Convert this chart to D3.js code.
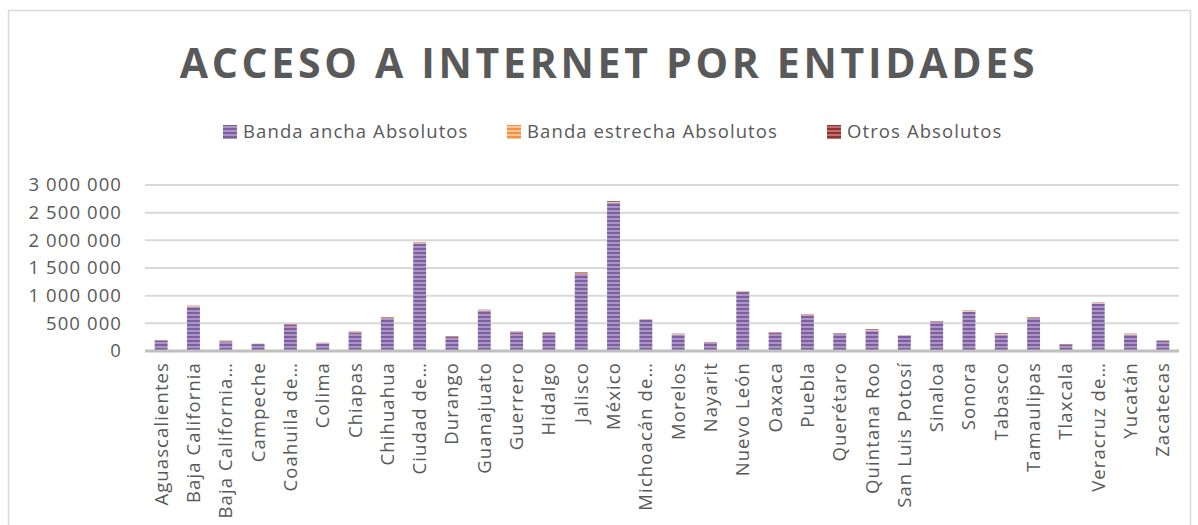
<!DOCTYPE html>
<html>
<head>
<meta charset="utf-8">
<script src="https://cdn.jsdelivr.net/npm/d3@7"></script>
<style>
  body { margin: 0; background: #fff; }
  text { font-family: "Open Sans", sans-serif; fill: #595959; }
</style>
</head>
<body>
<svg id="chart" width="1198" height="525"></svg>
<script>
// entidades (labels as shown, some truncated by the chart)
const entidades = ["Aguascalientes", "Baja California", "Baja California\u2026", "Campeche", "Coahuila de\u2026",
  "Colima", "Chiapas", "Chihuahua", "Ciudad de\u2026", "Durango", "Guanajuato", "Guerrero", "Hidalgo",
  "Jalisco", "México", "Michoacán de\u2026", "Morelos", "Nayarit", "Nuevo León", "Oaxaca", "Puebla",
  "Querétaro", "Quintana Roo", "San Luis Potosí", "Sinaloa", "Sonora", "Tabasco", "Tamaulipas",
  "Tlaxcala", "Veracruz de\u2026", "Yucatán", "Zacatecas"];

const bandaAncha = [190000, 800000, 175000, 125000, 470000, 140000, 335000, 595000, 1945000, 258000,
  725000, 338000, 325000, 1395000, 2685000, 560000, 300000, 145000, 1065000, 325000, 648000,
  315000, 372000, 278000, 530000, 712000, 300000, 600000, 115000, 860000, 298000, 183000];
const bandaEstrecha = [6000, 12000, 6000, 4000, 12000, 5000, 15000, 12000, 15000, 8000,
  13000, 12000, 8000, 12000, 12000, 12000, 8000, 6000, 8000, 8000, 12000,
  6000, 8000, 7000, 7000, 15000, 8000, 8000, 5000, 12000, 10000, 6000];
const otros = [3000, 6000, 5000, 3000, 6000, 5000, 6000, 7000, 10000, 5000,
  8000, 6000, 5000, 13000, 13000, 6000, 5000, 12000, 7000, 5000, 9000,
  4000, 12000, 4000, 5000, 8000, 12000, 6000, 7000, 8000, 5000, 4000];

const seriesNames = ["Banda ancha Absolutos", "Banda estrecha Absolutos", "Otros Absolutos"];
const yTicks = [0, 500000, 1000000, 1500000, 2000000, 2500000, 3000000];

const svg = d3.select("#chart");

// plot area
const plotLeft = 145, plotRight = 1179, plotTop = 185, plotBottom = 351;
const labelFont = "18.5px", labelSpacing = "1.1px";

// stripe patterns [dark, light]
const patternColors = [["#7d5f9f", "#a996c6"], ["#f68f3e", "#fbc59a"], ["#8f3331", "#c2706e"]];
const defs = svg.append("defs");
patternColors.forEach((c, i) => {
  const p = defs.append("pattern")
    .attr("id", "pat" + i)
    .attr("patternUnits", "userSpaceOnUse")
    .attr("width", 4).attr("height", 4);
  p.append("rect").attr("width", 4).attr("height", 2).attr("fill", c[0]);
  p.append("rect").attr("y", 2).attr("width", 4).attr("height", 2).attr("fill", c[1]);
});

// outer frame
svg.append("rect")
  .attr("x", 8.5).attr("y", 10.5)
  .attr("width", 1182).attr("height", 540)
  .attr("fill", "none").attr("stroke", "#d9d9d9").attr("stroke-width", 1.5);

// title
svg.append("text")
  .attr("x", 609).attr("y", 78)
  .attr("text-anchor", "middle")
  .style("font-size", "41px").style("font-weight", "bold")
  .style("letter-spacing", "3.7px")
  .text("ACCESO A INTERNET POR ENTIDADES");

const x = d3.scaleBand()
  .domain(entidades)
  .range([plotLeft, plotRight])
  .paddingInner(0.6)
  .paddingOuter(0.3);

const y = d3.scaleLinear()
  .domain([0, 3000000])
  .range([plotBottom, plotTop]);

// gridlines
svg.append("g")
  .selectAll("line")
  .data(yTicks.slice(1))
  .join("line")
  .attr("x1", plotLeft).attr("x2", plotRight)
  .attr("y1", d => y(d)).attr("y2", d => y(d))
  .attr("stroke", "#d9d9d9").attr("stroke-width", 2);

// y labels
const fmt = v => d3.format(",")(v).replace(/,/g, " ");
svg.append("g")
  .selectAll("text")
  .data(yTicks)
  .join("text")
  .attr("x", 122)
  .attr("y", d => y(d))
  .attr("dy", "0.35em")
  .attr("text-anchor", "end")
  .style("font-size", labelFont)
  .style("letter-spacing", labelSpacing)
  .text(d => fmt(d));

// stacked bars
const rows = entidades.map((e, i) => ({ e: e, a: bandaAncha[i], b: bandaEstrecha[i], c: otros[i] }));
const stack = d3.stack().keys(["a", "b", "c"])(rows);

svg.append("g")
  .selectAll("g")
  .data(stack)
  .join("g")
  .attr("fill", (d, i) => "url(#pat" + i + ")")
  .selectAll("rect")
  .data(d => d)
  .join("rect")
  .attr("x", d => x(d.data.e))
  .attr("width", x.bandwidth())
  .attr("y", d => y(d[1]))
  .attr("height", d => y(d[0]) - y(d[1]));

// category axis
const xAxis = svg.append("g")
  .attr("transform", "translate(0," + plotBottom + ")")
  .call(d3.axisBottom(x).tickSize(0).tickPadding(0));
xAxis.select(".domain")
  .attr("d", "M" + plotLeft + ",0H" + plotRight)
  .attr("stroke", "#bfbfbf").attr("stroke-width", 3);
xAxis.selectAll(".tick text")
  .attr("transform", "rotate(-90)")
  .attr("text-anchor", "end")
  .attr("x", -11)
  .attr("y", 0)
  .attr("dy", "0.35em")
  .attr("fill", "#595959")
  .style("font-family", "'Open Sans', sans-serif")
  .style("font-size", labelFont)
  .style("letter-spacing", labelSpacing);

// legend
const legendX = [223, 507, 827];
const legend = svg.append("g").attr("transform", "translate(0,132)");
seriesNames.forEach((name, i) => {
  const item = legend.append("g").attr("transform", "translate(" + legendX[i] + ",0)");
  item.append("rect")
    .attr("x", 0).attr("y", -7)
    .attr("width", 14).attr("height", 14)
    .attr("fill", "url(#pat" + i + ")");
  item.append("text")
    .attr("x", 20).attr("dy", "0.35em")
    .style("font-size", labelFont)
    .style("letter-spacing", labelSpacing)
    .text(name);
});
</script>
</body>
</html>
